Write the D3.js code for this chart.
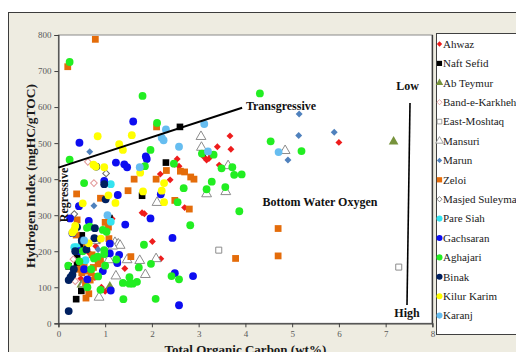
<!DOCTYPE html>
<html>
<head>
<meta charset="utf-8">
<script src="https://cdn.jsdelivr.net/npm/d3@7"></script>
<style>
  html, body { margin: 0; padding: 0; background: #ffffff; }
  svg { display: block; font-family: "Liberation Serif", "Times New Roman", serif; }
</style>
</head>
<body>
<svg id="chart" width="516" height="352"></svg>
<script>
// Hydrogen Index vs. Total Organic Carbon, one array of [TOC wt%, HI mgHC/gTOC] per field
const ahwaz = [[2.54,456],[2.48,441],[2.58,436],[2.18,414],[2.39,398],[1.79,307],[1.84,304],[2.01,227],
  [0.80,214],[1.42,152],[2.19,179],[1.00,89],[3.67,520],[3.40,490],[3.69,483],[3.12,461],[3.22,457],
  [3.17,453],[3.27,466],[3.44,439],[2.70,321],[6.00,502],[0.48,124],[0.78,127],[0.66,195],[1.15,290],[0.92,100]];
const naftSefid = [[2.60,545],[2.30,446],[1.79,354],[1.09,292],[0.50,244],[0.50,217],[0.40,186],
  [0.40,168],[0.22,158],[0.49,90],[0.38,67],[3.08,473]];
const abTeymur = [[0.49,107],[1.10,102],[7.17,504]];
const bandeKarkheh = [[0.63,448],[0.76,389],[0.32,178],[0.36,117]];
const eastMoshtaq = [[3.43,203],[7.28,156]];
const mansuri = [[3.05,518],[3.06,488],[4.85,479],[3.63,437],[3.17,359],[3.58,365],[2.11,335],[0.79,229],
  [1.21,224],[1.28,220],[1.32,216],[1.16,214],[0.96,178],[1.08,176],[1.47,176],[1.74,174],[2.09,179],
  [1.86,135],[1.23,131],[0.87,72],[0.55,110]];
const marun = [[5.15,581],[5.14,521],[4.91,453],[5.90,530],[0.67,476],[0.76,326],[0.85,205]];
const zeloi = [[0.79,788],[0.20,712],[2.10,545],[2.31,424],[2.61,422],[1.62,400],[2.09,400],[1.49,368],
  [0.39,359],[0.90,347],[2.49,341],[0.40,287],[1.00,280],[1.07,267],[0.38,245],[1.08,235],[0.60,211],
  [2.83,406],[2.90,400],[2.70,420],[2.80,317],[4.70,263],[3.79,180],[4.70,187],[0.59,70],
  [0.45,150],[0.55,160],[0.62,145],[0.70,140],[0.75,155],[0.80,130],[0.68,120],[0.90,175],[0.85,165],
  [0.58,112],[0.65,82],[0.50,140],[0.72,190],[1.55,185],[0.48,170]];
const masjedSuleyman = [[1.02,416],[0.34,303],[0.88,232]];
const pareSiah = [[1.12,386],[1.12,282],[0.34,211],[0.39,211],[0.58,175]];
const gachsaran = [[1.60,560],[0.45,501],[1.87,463],[1.89,456],[1.23,446],[1.41,441],[1.47,433],[0.98,395],
  [1.27,356],[2.19,358],[0.44,325],[1.97,291],[0.25,291],[0.65,284],[1.43,274],[2.44,237],[1.10,221],
  [1.10,194],[1.25,175],[1.26,167],[2.49,139],[1.12,91],[2.58,50],[2.88,131],[0.55,150],[0.45,200],
  [0.30,250],[0.62,122],[0.95,145],[1.30,190]];
const aghajari = [[0.24,725],[1.80,631],[2.11,556],[1.97,481],[0.24,454],[1.85,436],[2.47,443],[0.55,389],
  [2.55,336],[0.61,265],[0.67,268],[0.95,259],[1.03,254],[1.83,218],[0.84,185],[0.98,203],[0.98,192],
  [1.24,177],[1.72,155],[1.98,165],[2.42,131],[2.58,122],[1.52,128],[1.68,115],[1.52,110],[1.59,110],
  [1.38,112],[0.90,93],[1.39,67],[2.08,68],[4.31,638],[4.54,505],[5.20,478],[3.07,471],[3.32,468],
  [3.49,430],[3.72,433],[3.76,412],[3.92,413],[3.28,393],[2.68,375],[3.17,372],[3.57,378],[3.87,311],
  [2.82,272],[0.21,160],[0.45,172],[0.70,150],[0.85,130],[0.62,100],[0.76,180],[1.00,160],[0.52,200]];
const binak = [[0.81,435],[0.98,386],[1.01,344],[0.40,267],[0.78,264],[0.77,236],[0.60,205],[0.22,34],
  [0.22,120],[0.26,128],[0.30,135],[0.33,150],[0.36,200],[0.50,230]];
const kilurKarim = [[0.84,519],[1.57,522],[1.30,497],[1.38,481],[0.75,440],[0.80,435],[0.98,433],[1.75,418],
  [2.26,389],[2.21,368],[2.26,336],[1.07,355],[1.22,334],[1.81,366],[0.52,333],[0.34,259],[0.30,252],
  [0.91,235],[0.65,222],[0.36,270]];
const karanj = [[2.30,538],[2.21,515],[2.25,508],[2.58,490],[1.74,433],[3.12,553],[4.71,475],[3.20,477],
  [0.55,230],[1.05,300]];

const fieldNames = ["Ahwaz","Naft Sefid","Ab Teymur","Band-e-Karkheh","East-Moshtaq","Mansuri","Marun",
  "Zeloi","Masjed Suleyman","Pare Siah","Gachsaran","Aghajari","Binak","Kilur Karim","Karanj"];
const fieldData = [ahwaz, naftSefid, abTeymur, bandeKarkheh, eastMoshtaq, mansuri, marun,
  zeloi, masjedSuleyman, pareSiah, gachsaran, aghajari, binak, kilurKarim, karanj];

const xTicks = [0,1,2,3,4,5,6,7,8];
const yTicks = [0,100,200,300,400,500,600,700,800];

// Marker look for each field; "diamond" is a square turned by 45 degrees
const markerStyles = [
  {shape: "diamond",         fill: "#ee1c1c", stroke: "none",    size: 24},
  {shape: d3.symbolSquare,   fill: "#000000", stroke: "none",    size: 44},
  {shape: d3.symbolTriangle, fill: "#77933c", stroke: "none",    size: 40},
  {shape: "diamond",         fill: "#ffffff", stroke: "#e39a9a", size: 22},
  {shape: d3.symbolSquare,   fill: "#ffffff", stroke: "#8c8c8c", size: 36},
  {shape: d3.symbolTriangle, fill: "#ffffff", stroke: "#8c8c8c", size: 42},
  {shape: "diamond",         fill: "#4f81bd", stroke: "none",    size: 24},
  {shape: d3.symbolSquare,   fill: "#e46c0a", stroke: "none",    size: 46},
  {shape: "diamond",         fill: "#ffffff", stroke: "#6e6e6e", size: 22},
  {shape: d3.symbolCircle,   fill: "#33e3f0", stroke: "none",    size: 48},
  {shape: d3.symbolCircle,   fill: "#0d0df0", stroke: "none",    size: 48},
  {shape: d3.symbolCircle,   fill: "#22ee22", stroke: "none",    size: 48},
  {shape: d3.symbolCircle,   fill: "#002060", stroke: "none",    size: 48},
  {shape: d3.symbolCircle,   fill: "#ffff00", stroke: "none",    size: 48},
  {shape: d3.symbolCircle,   fill: "#66bdf0", stroke: "none",    size: 48}
];
const markerPath = (st, k) => {
  const type = st.shape === "diamond" ? d3.symbolSquare : st.shape;
  return d3.symbol().type(type).size(st.size * k)();
};
const markerRot = st => (st.shape === "diamond" ? " rotate(45)" : "");

const svg = d3.select("#chart");

// Chart frame
svg.append("rect").attr("x", 8.5).attr("y", 12.5).attr("width", 600).attr("height", 400)
  .attr("fill", "#eeece1").attr("stroke", "#3c3c3c").attr("stroke-width", 1);

const x = d3.scaleLinear().domain([0, 8]).range([58.4, 432.4]);
const y = d3.scaleLinear().domain([0, 800]).range([323.3, 35]);

// Plot area
svg.append("rect").attr("x", x(0)).attr("y", y(800)).attr("width", x(8) - x(0)).attr("height", y(0) - y(800))
  .attr("fill", "#ffffff").attr("stroke", "#8a8a8a").attr("stroke-width", 1);
svg.append("line").attr("x1", x(8)).attr("x2", x(8)).attr("y1", y(800)).attr("y2", y(0))
  .attr("stroke", "#3c3c3c").attr("stroke-width", 1.5);

// Axes
const xAxis = svg.append("g").attr("transform", `translate(0,${y(0)})`)
  .call(d3.axisBottom(x).tickValues(xTicks).tickSize(4).tickPadding(3).tickFormat(d3.format("d")));
const yAxis = svg.append("g").attr("transform", `translate(${x(0)},0)`)
  .call(d3.axisLeft(y).tickValues(yTicks).tickSize(4).tickPadding(3).tickFormat(d3.format("d")));
[xAxis, yAxis].forEach(g => {
  g.select(".domain").attr("stroke", "#404040").attr("stroke-width", 1.2);
  g.selectAll(".tick line").attr("stroke", "#404040");
  g.selectAll(".tick text").attr("fill", "#595959").attr("font-size", 9)
    .attr("font-family", "Liberation Serif, serif");
});

// Axis titles
svg.append("text").attr("x", x(4)).attr("y", 354).attr("text-anchor", "middle")
  .attr("font-size", 13).attr("font-weight", "bold").attr("fill", "#1a1a1a")
  .text("Total Organic Carbon (wt%)");
svg.append("text").attr("transform", "translate(35,176) rotate(-90)").attr("text-anchor", "middle")
  .attr("font-size", 13.5).attr("font-weight", "bold").attr("fill", "#1a1a1a")
  .text("Hydrogen Index (mgHC/gTOC)");

// Scatter marks, one group per field
const plot = svg.append("g");
fieldData.forEach((pts, i) => {
  const st = markerStyles[i];
  plot.append("g").selectAll("path").data(pts).join("path")
    .attr("d", markerPath(st, 1))
    .attr("transform", d => `translate(${x(d[0])},${y(d[1])})` + markerRot(st))
    .attr("fill", st.fill)
    .attr("stroke", st.stroke)
    .attr("stroke-width", st.stroke === "none" ? 0 : 1);
});

// Regressive / transgressive boundary
const boundary = [[0, 432], [3.93, 598]];
svg.append("line").attr("x1", x(boundary[0][0])).attr("y1", y(boundary[0][1]))
  .attr("x2", x(boundary[1][0])).attr("y2", y(boundary[1][1]))
  .attr("stroke", "#000000").attr("stroke-width", 2);

const note = (txt, tx, ty, rot) => svg.append("text")
  .attr("transform", `translate(${tx},${ty})` + (rot ? ` rotate(${rot})` : ""))
  .attr("text-anchor", "middle").attr("font-size", 12).attr("font-weight", "bold")
  .attr("fill", "#111111").text(txt);
note("Transgressive", 281, 110);
note("Regressive", 68, 195, -90);
note("Bottom Water Oxygen", 320, 206);
note("Low", 407.5, 90);
note("High", 407, 317);

// Bottom-water oxygen scale bar
svg.append("line").attr("x1", 410).attr("y1", 103).attr("x2", 407).attr("y2", 305)
  .attr("stroke", "#000000").attr("stroke-width", 1.6);

// Legend
svg.append("rect").attr("x", 436.5).attr("y", 33.5).attr("width", 100).attr("height", 301)
  .attr("fill", "#ffffff").attr("stroke", "#404040").attr("stroke-width", 1);
const legend = svg.append("g");
fieldNames.forEach((name, i) => {
  const st = markerStyles[i];
  const ly = 44 + i * 19.4;
  legend.append("path")
    .attr("d", markerPath(st, 0.6))
    .attr("transform", `translate(439.5,${ly})` + markerRot(st))
    .attr("fill", st.fill).attr("stroke", st.stroke)
    .attr("stroke-width", st.stroke === "none" ? 0 : 0.8);
  legend.append("text").attr("x", 443).attr("y", ly + 3.8)
    .attr("font-size", 11).attr("fill", "#1a1a1a").text(name);
});
</script>
</body>
</html>
